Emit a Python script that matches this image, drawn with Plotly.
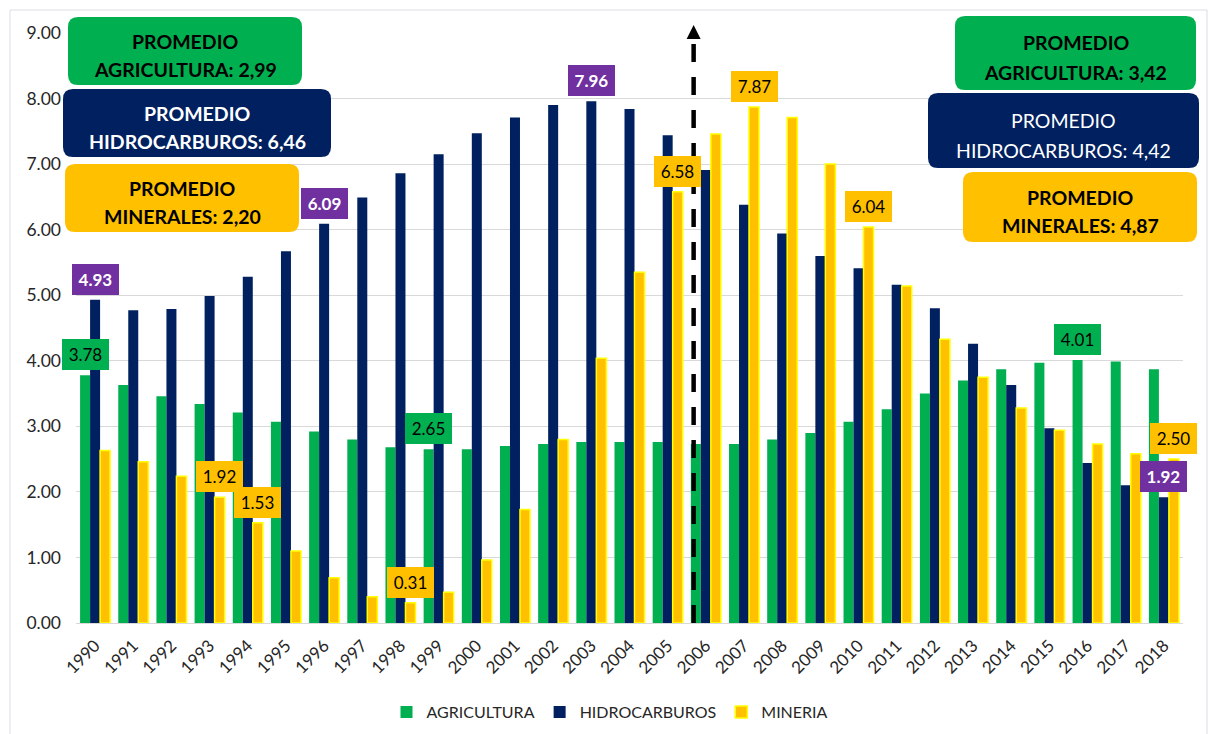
import plotly.graph_objects as go

years = [str(y) for y in range(1990, 2019)]
agricultura = [3.78, 3.63, 3.46, 3.34, 3.21, 3.07, 2.92, 2.80, 2.68, 2.65, 2.65, 2.70, 2.73, 2.76, 2.76, 2.76,
               2.73, 2.73, 2.80, 2.90, 3.07, 3.26, 3.50, 3.70, 3.87, 3.97, 4.01, 3.99, 3.87]
hidrocarburos = [4.93, 4.77, 4.79, 4.99, 5.28, 5.67, 6.09, 6.49, 6.86, 7.15, 7.47, 7.71, 7.90, 7.96, 7.84, 7.44,
                 6.91, 6.38, 5.94, 5.60, 5.41, 5.16, 4.80, 4.26, 3.63, 2.97, 2.44, 2.10, 1.92]
mineria = [2.63, 2.46, 2.24, 1.92, 1.53, 1.10, 0.69, 0.40, 0.31, 0.47, 0.96, 1.73, 2.80, 4.04, 5.35, 6.58,
           7.46, 7.87, 7.71, 7.00, 6.04, 5.14, 4.33, 3.75, 3.28, 2.94, 2.73, 2.58, 2.50]

agri_labeled = ["1990", "1999", "2016"]
hidro_labeled = ["1990", "1996", "2003", "2018"]
min_labeled = ["1993", "1994", "1998", "2005", "2007", "2010", "2018"]

promedios_izq = [("PROMEDIO", "AGRICULTURA: 2,99"), ("PROMEDIO", "HIDROCARBUROS: 6,46"), ("PROMEDIO", "MINERALES: 2,20")]
promedios_der = [("PROMEDIO", "AGRICULTURA: 3,42"), ("PROMEDIO", "HIDROCARBUROS: 4,42"), ("PROMEDIO", "MINERALES: 4,87")]

GREEN = "#00B050"
NAVY = "#002060"
YELLOW = "#FFC000"
PURPLE = "#7030A0"
FONT = "Lato"
TXT = "#262626"

W, H = 1209, 734
ML, MR, MT, MB = 76, 26, 33, 111
PW, PH = W - ML - MR, H - MT - MB


def xp(px):
    return (px - ML) / PW


def yp(py):
    return (H - MB - py) / PH


fig = go.Figure()
fig.add_trace(go.Bar(name="AGRICULTURA", x=years, y=agricultura, marker=dict(color=GREEN, line=dict(width=0))))
fig.add_trace(go.Bar(name="HIDROCARBUROS", x=years, y=hidrocarburos, marker=dict(color=NAVY, line=dict(width=0))))
fig.add_trace(go.Bar(name="MINERIA", x=years, y=mineria,
                     marker=dict(color=YELLOW, line=dict(color="#FFFF00", width=1.5))))

annotations = []
shapes = []


def add_labels(series, labeled, xshift, bg, fcolor, bold):
    for yr in labeled:
        i = years.index(yr)
        v = series[i]
        txt = f"{v:.2f}"
        if bold:
            txt = f"<b>{txt}</b>"
        annotations.append(dict(x=i, y=v, xref="x", yref="y", text=txt, showarrow=False,
                                xshift=xshift, yshift=20.5, yanchor="middle", xanchor="center",
                                bgcolor=bg, width=43, height=27, borderpad=2, borderwidth=0,
                                font=dict(family=FONT, size=17, color=fcolor)))


add_labels(agricultura, agri_labeled, -10, GREEN, "#000000", False)
add_labels(hidrocarburos, hidro_labeled, 0, PURPLE, "#FFFFFF", True)
add_labels(mineria, min_labeled, 10, YELLOW, "#000000", False)


def rounded_box(x0, y0, x1, y1, r, fill):
    rx, ry = r / PW, r / PH
    X0, X1 = xp(x0), xp(x1)
    Y0, Y1 = yp(y1), yp(y0)
    path = (f"M {X0+rx},{Y1} L {X1-rx},{Y1} Q {X1},{Y1} {X1},{Y1-ry} "
            f"L {X1},{Y0+ry} Q {X1},{Y0} {X1-rx},{Y0} "
            f"L {X0+rx},{Y0} Q {X0},{Y0} {X0},{Y0+ry} "
            f"L {X0},{Y1-ry} Q {X0},{Y1} {X0+rx},{Y1} Z")
    shapes.append(dict(type="path", path=path, xref="paper", yref="paper", fillcolor=fill,
                       line=dict(width=0), layer="above"))


def box_text(x0, y0, x1, y1, lines, color, bold):
    cx = xp((x0 + x1) / 2)
    h = y1 - y0
    for frac, line in zip((0.36, 0.77), lines):
        t = f"<b>{line}</b>" if bold else line
        annotations.append(dict(x=cx, y=yp(y0 + frac * h), xref="paper", yref="paper", text=t,
                                showarrow=False, xanchor="center", yanchor="middle",
                                font=dict(family=FONT, size=19.5, color=color)))


left_boxes = [(68, 17, 302, 85, GREEN, "#000000", True),
              (63, 89, 331, 157, NAVY, "#FFFFFF", True),
              (65, 164, 299, 232, YELLOW, "#000000", True)]
right_boxes = [(955, 16, 1196, 90, GREEN, "#000000", True),
               (928, 93, 1199, 168, NAVY, "#FFFFFF", False),
               (963, 172, 1197, 242, YELLOW, "#000000", True)]

for (x0, y0, x1, y1, fill, col, bold), lines in zip(left_boxes, promedios_izq):
    rounded_box(x0, y0, x1, y1, 10, fill)
    box_text(x0, y0, x1, y1, lines, col, bold)
for (x0, y0, x1, y1, fill, col, bold), lines in zip(right_boxes, promedios_der):
    rounded_box(x0, y0, x1, y1, 10, fill)
    box_text(x0, y0, x1, y1, lines, col, bold)

# dashed arrow separating periods
arrow_x = 15.68
tip = yp(25)
base = yp(39)
shapes.append(dict(type="line", xref="x", yref="paper", x0=arrow_x, x1=arrow_x, y0=0, y1=base,
                   line=dict(color="#000000", width=4.5, dash="18px,15px"), layer="above"))
half = 7 / PW * (len(years))
shapes.append(dict(type="path", xref="x", yref="paper",
                   path=f"M {arrow_x-half},{base} L {arrow_x+half},{base} L {arrow_x},{tip} Z",
                   fillcolor="#000000", line=dict(width=0), layer="above"))

# chart border (bottom edge falls outside the picture)
shapes.append(dict(type="rect", xref="paper", yref="paper", x0=xp(10), x1=xp(1207), y0=yp(745), y1=yp(10),
                   line=dict(color="#DADDE3", width=1), fillcolor="rgba(0,0,0,0)", layer="below"))

fig.update_layout(
    width=W, height=H,
    margin=dict(l=ML, r=MR, t=MT, b=MB, autoexpand=False),
    paper_bgcolor="#FFFFFF", plot_bgcolor="#FFFFFF",
    barmode="group", bargap=0.214, bargroupgap=0,
    font=dict(family=FONT, size=15, color=TXT),
    showlegend=True,
    legend=dict(orientation="h", x=xp(610), xanchor="center", y=yp(712), yanchor="middle",
                font=dict(family=FONT, size=16, color=TXT), traceorder="normal",
                itemclick=False, bgcolor="rgba(0,0,0,0)"),
    xaxis=dict(type="category", tickangle=-45, showgrid=False, zeroline=False,
               showline=True, linecolor="#D9D9D9", linewidth=1, ticks="", ticklabelstandoff=5,
               tickfont=dict(family=FONT, size=17, color=TXT), range=[-0.5, len(years) - 0.5]),
    yaxis=dict(range=[0, 9], dtick=1, tickformat=".2f", showgrid=True, gridcolor="#D9D9D9", gridwidth=1,
               zeroline=False, showline=False, ticks="", ticklabelstandoff=14,
               tickfont=dict(family=FONT, size=17.5, color=TXT)),
    annotations=annotations,
    shapes=shapes,
)

fig.write_html("out.html", config={"displayModeBar": False},
               post_script="document.body.style.margin='0';document.body.style.overflow='hidden';")
